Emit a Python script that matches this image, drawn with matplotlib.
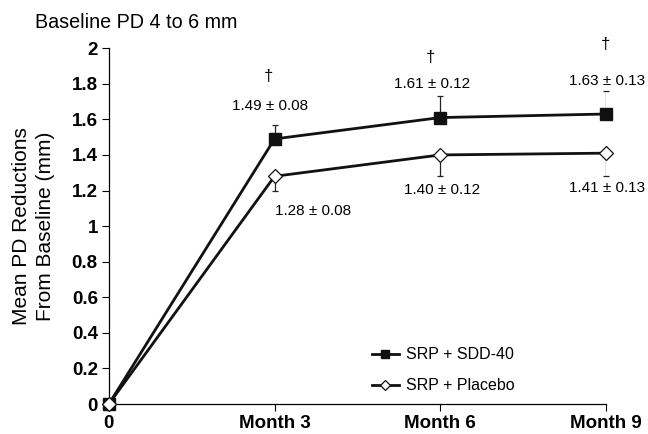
import matplotlib
matplotlib.use("Agg")
import matplotlib.pyplot as plt

plt.rcParams['font.family'] = ['Liberation Sans', 'DejaVu Sans']

# data
categories = ["0", "Month 3", "Month 6", "Month 9"]
sdd_mean = [0, 1.49, 1.61, 1.63]
sdd_err = [0, 0.08, 0.12, 0.13]
placebo_mean = [0, 1.28, 1.40, 1.41]
placebo_err = [0, 0.08, 0.12, 0.13]
y_ticks = [0, 0.2, 0.4, 0.6, 0.8, 1, 1.2, 1.4, 1.6, 1.8, 2]

x = list(range(len(categories)))

fig = plt.figure(figsize=(6.48, 4.34), dpi=100)
ax = fig.add_axes([0.168, 0.069, 0.767, 0.82])

# error bars: SDD upward, placebo downward
ax.errorbar(x[1:], sdd_mean[1:], yerr=[[0] * 3, sdd_err[1:]], fmt="none",
            ecolor="#222222", elinewidth=0.9, capsize=2.5, capthick=0.9, zorder=2)
ax.errorbar(x[1:], placebo_mean[1:], yerr=[placebo_err[1:], [0] * 3], fmt="none",
            ecolor="#222222", elinewidth=0.9, capsize=2.5, capthick=0.9, zorder=2)

ax.plot(x, sdd_mean, color="#111111", lw=2, marker="s", markersize=8,
        markerfacecolor="#111111", markeredgecolor="#111111", label="SRP + SDD-40", zorder=3)
ax.plot(x, placebo_mean, color="#111111", lw=2, marker="D", markersize=7,
        markerfacecolor="white", markeredgecolor="#111111", markeredgewidth=0.9,
        label="SRP + Placebo", zorder=4)

# value labels (offsets in points from each mean)
dagger_up = [0, 45, 43, 50]
sdd_dx = [0, -3, -6, 1]
for i in x[1:]:
    ax.annotate(f"{sdd_mean[i]:.2f} \u00b1 {sdd_err[i]:.2f}", xy=(i, sdd_mean[i]),
                xytext=(sdd_dx[i], 24), textcoords="offset points",
                ha="center", va="center", fontsize=11)
    ax.annotate("\u2020", xy=(i, sdd_mean[i]), xytext=(sdd_dx[i] - 1, dagger_up[i]),
                textcoords="offset points", ha="center", va="center", fontsize=12)
    dx = 28 if i == 1 else 1
    ax.annotate(f"{placebo_mean[i]:.2f} \u00b1 {placebo_err[i]:.2f}", xy=(i, placebo_mean[i]),
                xytext=(dx, -25), textcoords="offset points", ha="center", va="center", fontsize=11)

ax.set_xlim(0, 3)
ax.set_ylim(0, 2)
ax.set_xticks(x)
ax.set_xticklabels(categories, fontsize=13.5, fontweight="bold")
ax.set_yticks(y_ticks)
ax.set_yticklabels([f"{v:g}" for v in y_ticks], fontsize=13.5, fontweight="bold")
ax.tick_params(direction="out", length=5, width=0.8, pad=3)
for s in ["top", "right"]:
    ax.spines[s].set_visible(False)
for s in ["left", "bottom"]:
    ax.spines[s].set_linewidth(0.9)
    ax.spines[s].set_clip_on(False)
for line in ax.lines:
    line.set_clip_on(False)

ax.set_ylabel("Mean PD Reductions\nFrom Baseline (mm)", fontsize=15, labelpad=12,
              linespacing=1.3)

fig.text(0.054, 0.949, "Baseline PD 4 to 6 mm", fontsize=14.2, ha="left", va="center")

ax.legend(loc="lower left", bbox_to_anchor=(0.5, -0.01), frameon=False, fontsize=11.5,
          handlelength=1.7, handletextpad=0.45, labelspacing=1.0, markerscale=0.75)

fig.savefig("out.png", dpi=100)
